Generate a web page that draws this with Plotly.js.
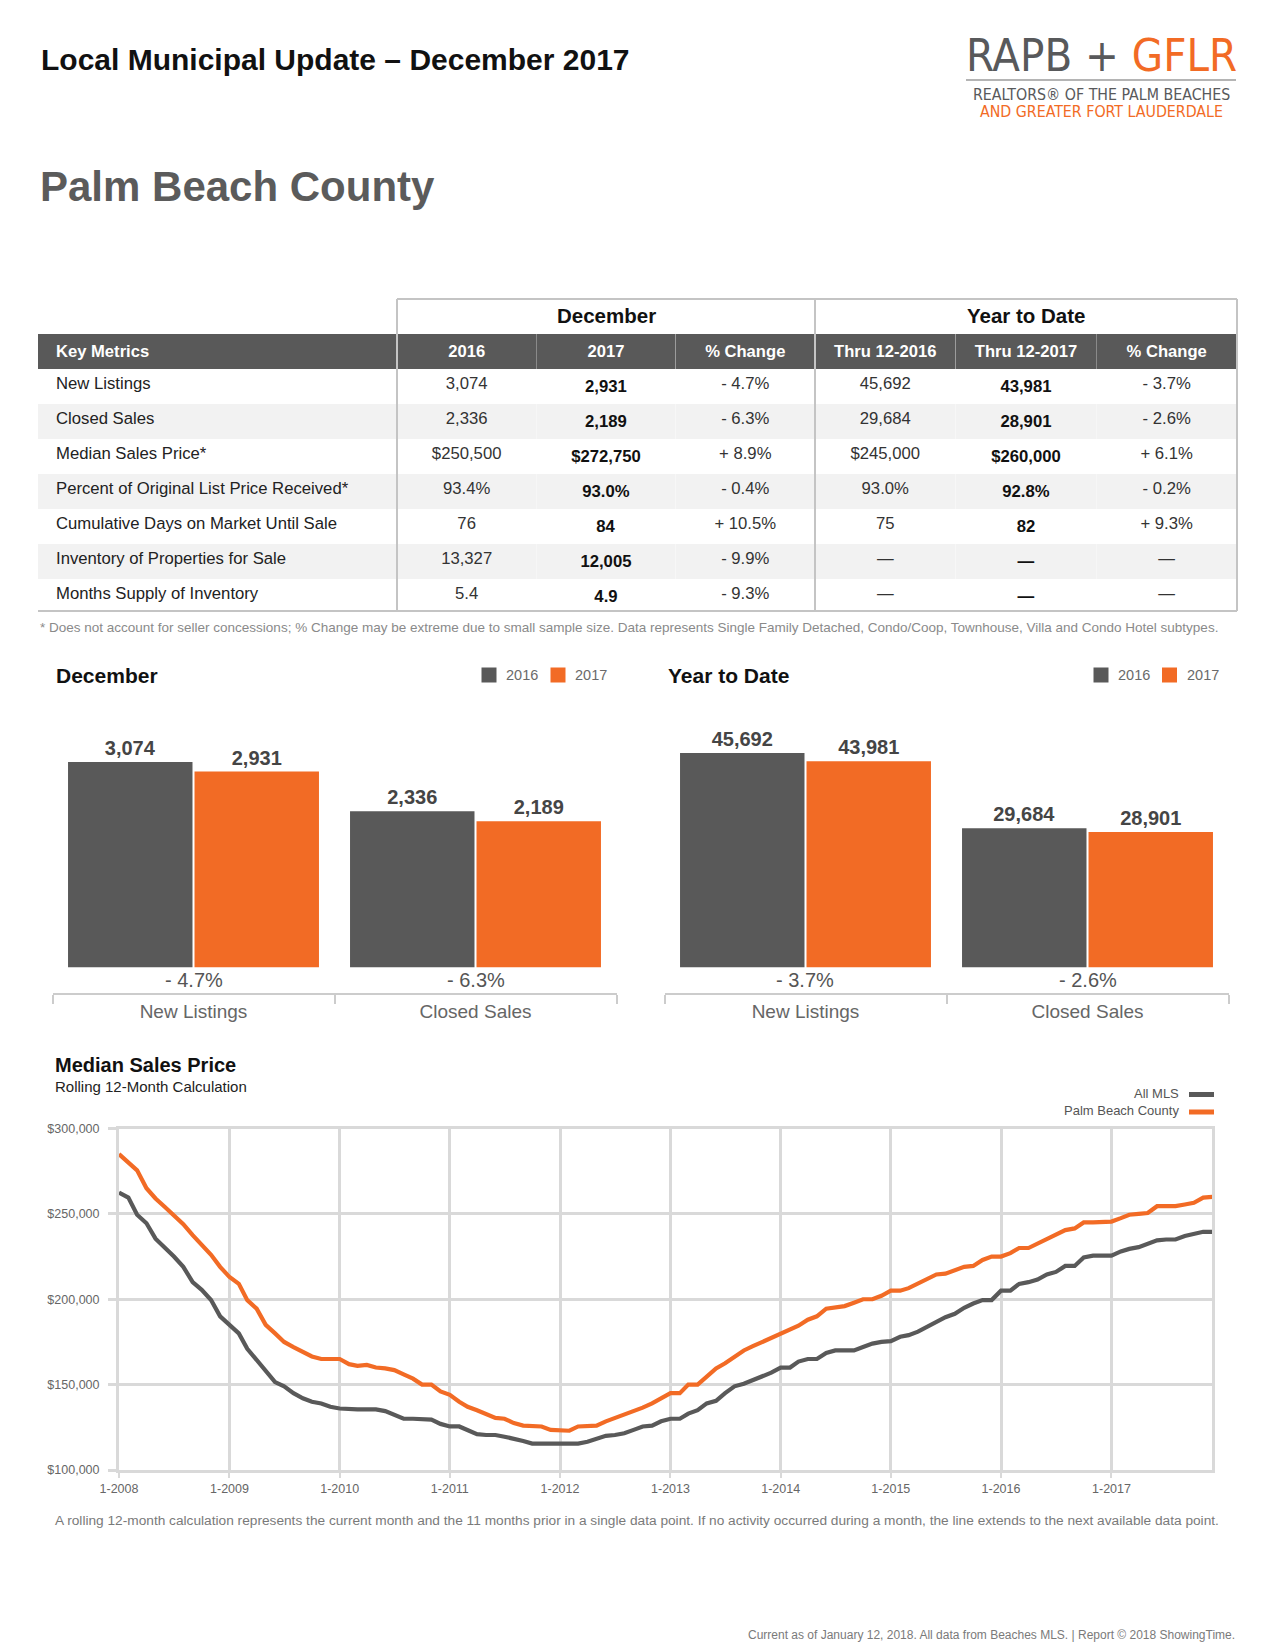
<!DOCTYPE html>
<html>
<head>
<meta charset="utf-8">
<script src="https://cdn.plot.ly/plotly-3.0.1.min.js"></script>
<style>
html,body{margin:0;padding:0;background:#ffffff;}
#chart{width:1275px;height:1650px;}
</style>
</head>
<body>
<div id="chart"></div>
<script>
// ---------------- DATA ----------------
const metrics = ['New Listings','Closed Sales','Median Sales Price*','Percent of Original List Price Received*','Cumulative Days on Market Until Sale','Inventory of Properties for Sale','Months Supply of Inventory'];
const dec2016 = ['3,074','2,336','$250,500','93.4%','76','13,327','5.4'];
const dec2017 = ['2,931','2,189','$272,750','93.0%','84','12,005','4.9'];
const decChange = ['- 4.7%','- 6.3%','+ 8.9%','- 0.4%','+ 10.5%','- 9.9%','- 9.3%'];
const ytd2016 = ['45,692','29,684','$245,000','93.0%','75','—','—'];
const ytd2017 = ['43,981','28,901','$260,000','92.8%','82','—','—'];
const ytdChange = ['- 3.7%','- 2.6%','+ 6.1%','- 0.2%','+ 9.3%','—','—'];
const tableHeader = ['', 'Key Metrics', '2016', '2017', '% Change', 'Thru 12-2016', 'Thru 12-2017', '% Change'];

const barCategories = ['New Listings', 'Closed Sales'];
const decBars2016 = [3074, 2336];
const decBars2017 = [2931, 2189];
const decBarChange = ['- 4.7%', '- 6.3%'];
const ytdBars2016 = [45692, 29684];
const ytdBars2017 = [43981, 28901];
const ytdBarChange = ['- 3.7%', '- 2.6%'];

const yearTicks = ['2008-01-01','2009-01-01','2010-01-01','2011-01-01','2012-01-01','2013-01-01','2014-01-01','2015-01-01','2016-01-01','2017-01-01'];
const yearLabels = ['1-2008','1-2009','1-2010','1-2011','1-2012','1-2013','1-2014','1-2015','1-2016','1-2017'];
const priceTicks = [100000, 150000, 200000, 250000, 300000];

const medianPBC = [
  285000, 280500, 275500, 265000, 259000, 254000, 249000, 244000, 237500, 231500, 226000, 219000,
  213000, 209000, 199500, 194500, 185000, 180000, 175000, 172000, 169500, 166500, 165000, 165000,
  165000, 162000, 161000, 161500, 160000, 159500, 158500, 156000, 153500, 150000, 150000, 146000,
  144000, 140000, 137000, 135000, 133000, 130500, 130000, 127500, 126000, 125500, 125500, 123500,
  123000, 123000, 125500, 126000, 126000, 128500, 130500, 132000, 134500, 136500, 139000, 142000,
  145000, 145000, 150000, 150000, 155000, 159500, 162500, 166000, 170000, 172500, 175000, 177000,
  180000, 182000, 184500, 188000, 190000, 194500, 195000, 196000, 198000, 200000, 200000, 202000,
  205000, 205000, 206500, 209000, 211500, 214500, 215000, 217000, 219000, 219500, 223000, 225000,
  225000, 227000, 230000, 230000, 232500, 235000, 238000, 240500, 241500, 245000, 245000, 245000,
  245500, 247500, 249500, 250000, 250500, 254500, 254500, 254500, 255500, 256500, 259500, 260000
];
const medianAllMLS = [
  262500, 259500, 249500, 244500, 235500, 230500, 225000, 219000, 210000, 205500, 199500, 190000,
  185000, 180000, 171000, 164500, 158500, 151500, 149000, 145000, 142000, 140000, 139000, 137000,
  136000, 135500, 135500, 135500, 135500, 134500, 132500, 130000, 130000, 130000, 129500, 127000,
  125500, 125500, 123500, 121000, 120500, 120500, 119500, 118500, 117000, 115500, 115500, 115500,
  115500, 115500, 115500, 116500, 118000, 120000, 120500, 121500, 123500, 125500, 126000, 128500,
  130000, 130000, 133000, 135000, 139000, 140500, 145000, 149000, 150500, 152500, 155000, 157000,
  160000, 160000, 163500, 165000, 165000, 168500, 170000, 170000, 170000, 172000, 174000, 175000,
  175500, 178000, 179000, 181000, 184000, 187000, 189500, 191500, 195000, 197500, 199500, 199500,
  205000, 205000, 209000, 210000, 211500, 214500, 216000, 219500, 219500, 224500, 225500, 225500,
  225500, 228000, 229500, 230500, 232500, 234500, 235000, 235000, 237000, 238000, 239500, 239500
];
const months = [];
for (let yr = 2008; yr <= 2017; yr++) {
  for (let m = 1; m <= 12; m++) months.push(yr + '-' + String(m).padStart(2, '0') + '-01');
}

// ---------------- STYLE / HELPERS ----------------
const W = 1275, H = 1650;
const px = x => x / W;
const py = y => 1 - y / H;
const NARROW = '"Liberation Sans Narrow", "Arial Narrow", "DejaVu Sans Condensed", sans-serif';
const SANS = '"Liberation Sans", Arial, Helvetica, sans-serif';
const GRAY = '#595959';
const ORANGE = '#f26b25';
const BORDER = '#c4c4c4';
const GRID = '#d9d9d9';

function ann(text, x, y, o) {
  o = o || {};
  return {
    text: text, x: px(x), y: py(y), xref: 'paper', yref: 'paper', showarrow: false,
    xanchor: o.xanchor || 'left', yanchor: o.yanchor || 'middle',
    font: { family: o.family || SANS, size: o.size || 14, color: o.color || '#000', weight: o.weight || 'normal' },
    align: o.align || 'left'
  };
}
function rect(x0, y0, x1, y1, color) {
  return { type: 'rect', xref: 'paper', yref: 'paper', x0: px(x0), x1: px(x1), y0: py(y0), y1: py(y1),
           fillcolor: color, line: { width: 0 }, layer: 'above' };
}
function line(x0, y0, x1, y1, color, width) {
  return { type: 'line', xref: 'paper', yref: 'paper', x0: px(x0), x1: px(x1), y0: py(y0), y1: py(y1),
           line: { color: color, width: width }, layer: 'above' };
}

// ---------------- TRACES ----------------
const rowFill = metrics.map((_, i) => (i % 2 === 1 ? '#f2f2f2' : '#ffffff'));
const bold = arr => arr.map(v => '<b>' + v + '</b>');

const tableTrace = {
  type: 'table',
  domain: { x: [px(38), px(1237)], y: [py(622), py(333.5)] },
  columnwidth: [10, 349, 139.3, 139.3, 139.3, 140.7, 140.7, 140.7],
  header: {
    values: tableHeader.map(v => v ? '<b>' + v + '</b>' : ''),
    align: ['left', 'left', 'center', 'center', 'center', 'center', 'center', 'center'],
    fill: { color: GRAY },
    line: { width: 0, color: GRAY },
    font: { family: SANS, size: 16.6, color: '#ffffff' },
    height: 34.5
  },
  cells: {
    values: [metrics.map(() => ''), metrics, dec2016, bold(dec2017), decChange, ytd2016, bold(ytd2017), ytdChange],
    align: ['left', 'left', 'center', 'center', 'center', 'center', 'center', 'center'],
    fill: { color: [rowFill, rowFill, rowFill, rowFill, rowFill, rowFill, rowFill, rowFill] },
    line: { width: 0, color: '#ffffff' },
    font: { family: SANS, size: 16.7, color: ['#222', '#222', '#333', '#111', '#333', '#333', '#111', '#333'] },
    height: 34.7
  }
};

const barText = arr => arr.map(v => v.toLocaleString('en-US'));
const barFont = { family: SANS, size: 20, color: '#454545', weight: 'bold' };

const traces = [
  tableTrace,
  { type: 'bar', name: '2016', x: barCategories, y: decBars2016, xaxis: 'x', yaxis: 'y',
    marker: { color: GRAY }, text: barText(decBars2016), textposition: 'outside', textfont: barFont, cliponaxis: false, hoverinfo: 'skip' },
  { type: 'bar', name: '2017', x: barCategories, y: decBars2017, xaxis: 'x', yaxis: 'y',
    marker: { color: ORANGE }, text: barText(decBars2017), textposition: 'outside', textfont: barFont, cliponaxis: false, hoverinfo: 'skip' },
  { type: 'bar', name: '2016', x: barCategories, y: ytdBars2016, xaxis: 'x2', yaxis: 'y2',
    marker: { color: GRAY }, text: barText(ytdBars2016), textposition: 'outside', textfont: barFont, cliponaxis: false, hoverinfo: 'skip' },
  { type: 'bar', name: '2017', x: barCategories, y: ytdBars2017, xaxis: 'x2', yaxis: 'y2',
    marker: { color: ORANGE }, text: barText(ytdBars2017), textposition: 'outside', textfont: barFont, cliponaxis: false, hoverinfo: 'skip' },
  { type: 'scatter', mode: 'lines', name: 'All MLS', x: months, y: medianAllMLS, xaxis: 'x3', yaxis: 'y3',
    line: { color: GRAY, width: 4.2 }, hoverinfo: 'skip' },
  { type: 'scatter', mode: 'lines', name: 'Palm Beach County', x: months, y: medianPBC, xaxis: 'x3', yaxis: 'y3',
    line: { color: ORANGE, width: 4.2 }, hoverinfo: 'skip' }
];

// ---------------- LAYOUT ----------------
const catAxis = (d0, d1) => ({
  domain: [px(d0), px(d1)], anchor: 'free', position: py(994), type: 'category', range: [-0.5, 1.5],
  showline: true, linecolor: '#cccccc', linewidth: 2,
  ticks: 'outside', tickson: 'boundaries', ticklen: 9, tickwidth: 2, tickcolor: '#cccccc',
  tickfont: { family: SANS, size: 19, color: '#666666' }, showgrid: false, zeroline: false, fixedrange: true
});

const annotations = [
  ann('Local Municipal Update – December 2017', 39, 59, { size: 30, weight: 'bold', color: '#111' }),
  ann('Palm Beach County', 38, 187, { size: 42, weight: 'bold', color: '#5b5b5b' }),
  ann('RAPB + <span style="color:' + ORANGE + '">GFLR</span>', 1101, 56, { family: NARROW, size: 45, color: '#58595b', xanchor: 'center' }),
  ann('REALTORS® OF THE PALM BEACHES', 1101, 94.5, { family: NARROW, size: 15.8, color: '#58595b', xanchor: 'center' }),
  ann('AND GREATER FORT LAUDERDALE', 1101, 111.5, { family: NARROW, size: 15.8, color: ORANGE, xanchor: 'center' }),
  ann('December', 606, 315, { size: 20.5, weight: 'bold', color: '#111', xanchor: 'center' }),
  ann('Year to Date', 1026, 315, { size: 20.5, weight: 'bold', color: '#111', xanchor: 'center' }),
  ann('* Does not account for seller concessions; % Change may be extreme due to small sample size. Data represents Single Family Detached, Condo/Coop, Townhouse, Villa and Condo Hotel subtypes.',
      38, 627, { size: 13.5, color: '#8a8a8a' }),
  ann('December', 54, 675, { size: 21, weight: 'bold', color: '#111' }),
  ann('2016', 503.5, 675, { size: 14.5, color: '#6a6a6a' }),
  ann('2017', 572.5, 675, { size: 14.5, color: '#6a6a6a' }),
  ann('Year to Date', 665.5, 675, { size: 21, weight: 'bold', color: '#111' }),
  ann('2016', 1116, 675, { size: 14.5, color: '#6a6a6a' }),
  ann('2017', 1184.5, 675, { size: 14.5, color: '#6a6a6a' }),
  ann('Median Sales Price', 53, 1065, { size: 20, weight: 'bold', color: '#111' }),
  ann('Rolling 12-Month Calculation', 53, 1086, { size: 15, color: '#222' }),
  ann('All MLS', 1181, 1093, { size: 13, color: '#555', xanchor: 'right' }),
  ann('Palm Beach County', 1181, 1110.5, { size: 13, color: '#555', xanchor: 'right' }),
  ann('A rolling 12-month calculation represents the current month and the 11 months prior in a single data point. If no activity occurred during a month, the line extends to the next available data point.',
      53, 1520, { size: 13.7, color: '#7a7a7a' }),
  ann('Current as of January 12, 2018. All data from Beaches MLS. | Report © 2018 ShowingTime.',
      1237, 1635, { size: 12, color: '#7a7a7a', xanchor: 'right' })
];
barCategories.forEach((c, i) => {
  annotations.push({ text: decBarChange[i], x: c, xref: 'x', y: py(980), yref: 'paper', showarrow: false,
    xanchor: 'center', yanchor: 'middle', font: { family: SANS, size: 20, color: '#555' } });
  annotations.push({ text: ytdBarChange[i], x: c, xref: 'x2', y: py(980), yref: 'paper', showarrow: false,
    xanchor: 'center', yanchor: 'middle', font: { family: SANS, size: 20, color: '#555' } });
});

const shapes = [
  // logo rule
  line(966, 80, 1236, 80, '#6a6a6a', 1.2),
  // table frame
  line(397, 299, 1237, 299, BORDER, 2),
  line(397, 299, 397, 611, BORDER, 2),
  line(815, 299, 815, 611, BORDER, 2),
  line(1237, 299, 1237, 611, BORDER, 2),
  line(38, 611, 1237, 611, BORDER, 2),
  // bar legends
  rect(481.5, 667.5, 496.5, 682.5, GRAY),
  rect(550.5, 667.5, 565.5, 682.5, ORANGE),
  rect(1093.5, 667.5, 1108.5, 682.5, GRAY),
  rect(1162, 667.5, 1177, 682.5, ORANGE),
  // line legend swatches
  line(1189, 1094.5, 1214, 1094.5, GRAY, 5),
  line(1189, 1112, 1214, 1112, ORANGE, 5)
];

const layout = {
  width: W, height: H,
  margin: { l: 0, r: 0, t: 0, b: 0, pad: 0 },
  paper_bgcolor: '#ffffff', plot_bgcolor: 'rgba(0,0,0,0)',
  showlegend: false,
  font: { family: SANS },
  barmode: 'group', bargap: 0.103, bargroupgap: 0.016,
  xaxis: catAxis(52.5, 616.5),
  yaxis: { domain: [py(967.5), py(690)], range: [0, 4151], visible: false, fixedrange: true },
  xaxis2: catAxis(664.5, 1228.5),
  yaxis2: { domain: [py(967.5), py(690)], range: [0, 59143], visible: false, anchor: 'x2', fixedrange: true },
  xaxis3: {
    domain: [px(119), px(1212.3)], anchor: 'y3', type: 'date', range: ['2008-01-01', '2017-12-01'],
    tickmode: 'array', tickvals: yearTicks, ticktext: yearLabels,
    showgrid: true, gridcolor: GRID, gridwidth: 3,
    showline: true, mirror: true, linecolor: GRID, linewidth: 3,
    ticks: 'outside', ticklen: 5, tickwidth: 2, tickcolor: GRID,
    tickfont: { family: SANS, size: 12.5, color: '#666' }, zeroline: false
  },
  yaxis3: {
    domain: [py(1470), py(1128.5)], anchor: 'x3', range: [100000, 300000],
    tickmode: 'array', tickvals: priceTicks, tickformat: '$,d',
    showgrid: true, gridcolor: GRID, gridwidth: 3,
    showline: true, mirror: true, linecolor: GRID, linewidth: 3,
    ticks: 'outside', ticklen: 8, tickwidth: 3, tickcolor: GRID, ticklabelstandoff: 6,
    tickfont: { family: SANS, size: 12.5, color: '#666' }, zeroline: false
  },
  annotations: annotations,
  shapes: shapes
};

Plotly.newPlot('chart', traces, layout, { staticPlot: true, displayModeBar: false });
</script>
</body>
</html>
